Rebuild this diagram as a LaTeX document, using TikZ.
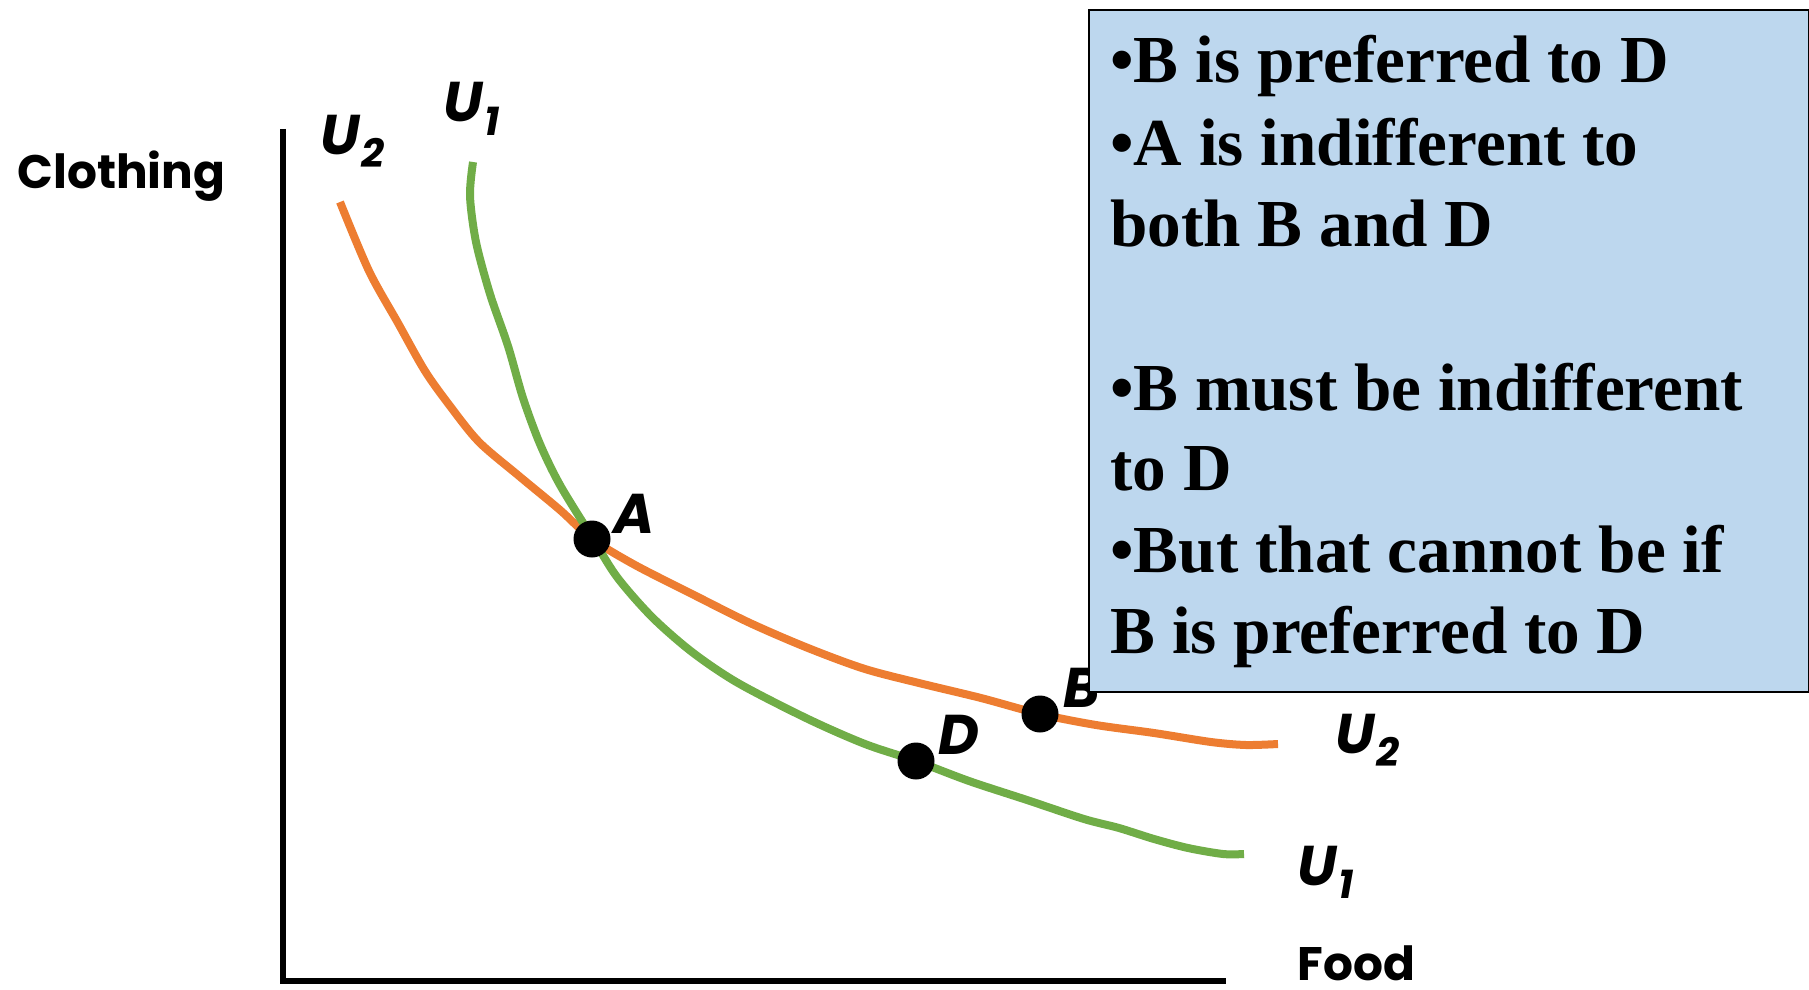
\documentclass[tikz,border=0pt]{standalone}
\usepackage{fontspec}
\setmainfont{Liberation Serif}
\newfontfamily\gothic{Poppins}
\definecolor{orng}{HTML}{ED7D31}
\definecolor{grn}{HTML}{70AD47}
\definecolor{boxblue}{HTML}{BDD7EE}
\tikzset{
  axisline/.style={line width=3pt, black, line join=miter},
  curvetwo/.style={line width=4pt, orng, line join=round},
  curveone/.style={line width=4pt, grn, line join=round},
  dot/.style={circle, fill=black, inner sep=0pt, minimum size=18.5pt},
  ptlabel/.style={font=\gothic\bfseries\itshape\fontsize{28}{28}\selectfont, anchor=base west, inner sep=0pt},
  axlabel/.style={font=\gothic\bfseries\fontsize{23.5}{23.5}\selectfont, anchor=base west, inner sep=0pt},
  boxtext/.style={font=\bfseries\fontsize{33.6}{41}\selectfont, anchor=base west, inner sep=0pt},
  notebox/.style={draw=black, line width=1pt, fill=boxblue},
}
\newcommand{\ulab}[1]{U\kern1pt\raisebox{-6.5pt}{\fontsize{20}{20}\selectfont #1}}
\begin{document}
\begin{tikzpicture}[x=0.5pt,y=-0.5pt]
\useasboundingbox (0,0) rectangle (1809,990);
% axes
\coordinate (ytop) at (283,129);
\coordinate (orig) at (283,981);
\coordinate (xend) at (1226,981);
\draw[axisline] (ytop) -- (orig) -- (xend);
\node[axlabel] (clothing) at (17,188) {Clothing};
\node[axlabel] (food) at (1297,980) {Food};
% curves
\draw[curvetwo] plot[smooth, tension=0.5] coordinates {
 (340,202) (369,271) (398,323) (425,371) (450,406) (479,442) (519,476) (560,510)
 (592,539) (635,565) (692,594) (750,623) (808,648) (865,669) (923,684) (981,698)
 (1040,714) (1096,725) (1154,733) (1211,742) (1246,745) (1278,744)};
\draw[curveone] plot[smooth, tension=0.5] coordinates {
 (473,162) (470,196) (476,242) (490,294) (508,346) (523,398) (540,444) (560,485)
 (592,537) (617,577) (652,617) (692,652) (738,683) (808,719) (865,744) (916,761)
 (969,781) (1027,800) (1084,819) (1119,828) (1154,839) (1188,848) (1223,854) (1244,854)};
% points
\node[dot] (A) at (592,539) {};
\node[dot] (D) at (916,761) {};
\node[dot] (B) at (1040,714) {};
\node[ptlabel] (Alab) at (613,533) {A};
\node[ptlabel] (Dlab) at (938,754) {D};
\node[ptlabel] (Blab) at (1063,707) {B};
% curve labels
\node[ptlabel] (u2top) at (320,155) {\ulab{2}};
\node[ptlabel] (u1top) at (443,122) {\ulab{1}};
\node[ptlabel] (u2right) at (1335,753) {\ulab{2}};
\node[ptlabel] (u1right) at (1297,885) {\ulab{1}};
% note box
\node[notebox, anchor=north west, inner sep=0pt, minimum width=360pt, minimum height=341pt] (box) at (1088,9) {};
\node[boxtext] (l1) at (1110,83) {•B is preferred to D};
\node[boxtext] (l2) at (1110,165) {•A is indifferent to};
\node[boxtext] (l3) at (1110,246) {both B and D};
\node[boxtext] (l4) at (1110,410) {•B must be indifferent};
\node[boxtext] (l5) at (1110,490) {to D};
\node[boxtext] (l6) at (1110,572) {•But that cannot be if};
\node[boxtext] (l7) at (1110,653) {B is preferred to D};
\end{tikzpicture}
\end{document}
